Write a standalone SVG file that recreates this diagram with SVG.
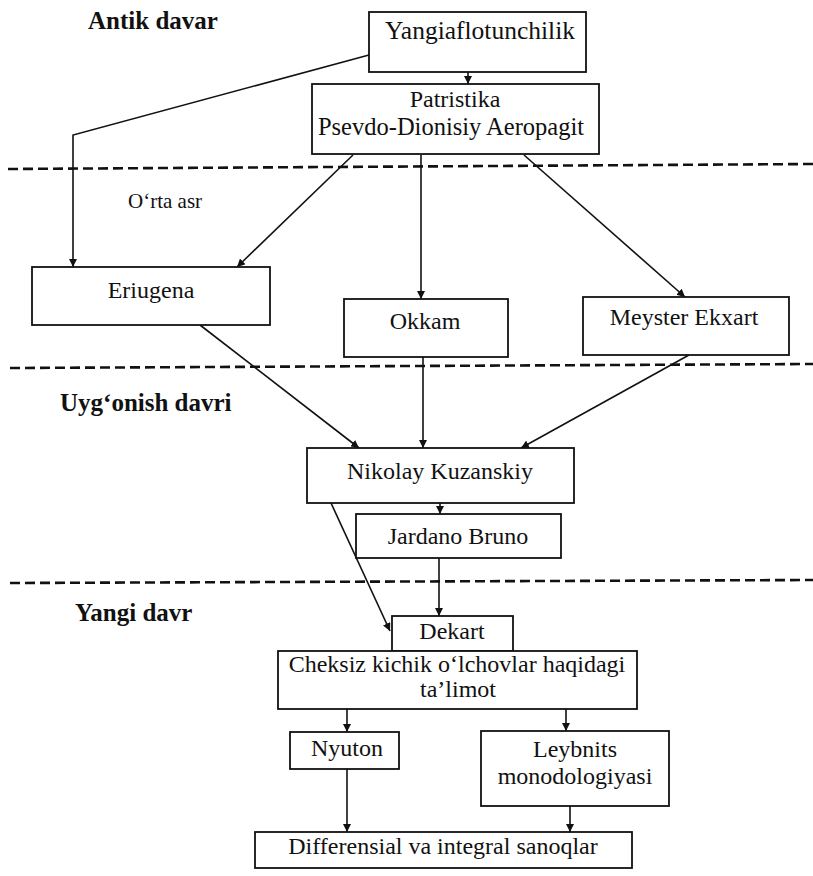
<svg xmlns="http://www.w3.org/2000/svg" width="813" height="876" viewBox="0 0 813 876">
<style>
.box{fill:#fff;stroke:#111;stroke-width:1.8}
.t{font-family:"Liberation Serif","Times New Roman",serif;font-size:24px;fill:#111;text-anchor:middle}
.lbl{font-family:"Liberation Serif","Times New Roman",serif;font-size:25px;font-weight:bold;fill:#111}
.small{font-family:"Liberation Serif","Times New Roman",serif;font-size:21px;fill:#111}
.dash{stroke:#111;stroke-width:2.6;stroke-dasharray:10 5;fill:none}
.c{stroke:#111;stroke-width:1.6;fill:none;marker-end:url(#ah)}
</style>
<defs>
<marker id="ah" markerUnits="userSpaceOnUse" markerWidth="9" markerHeight="8" refX="8" refY="4" orient="auto">
<path d="M0,0 L8,4 L0,8 z" fill="#111"/>
</marker>
</defs>
<rect width="813" height="876" fill="#fff"/>
<g id="periods">
<line class="dash" x1="8" y1="169" x2="813" y2="164"/>
<line class="dash" x1="10" y1="368" x2="813" y2="364"/>
<line class="dash" x1="10" y1="583" x2="813" y2="580"/>
<text class="lbl" x="88" y="29">Antik davar</text>
<text class="small" x="128" y="208">O‘rta asr</text>
<text class="lbl" x="60" y="411">Uyg‘onish davri</text>
<text class="lbl" x="75" y="621">Yangi davr</text>
</g>
<g id="connectors">
<polyline class="c" points="369,55 73,135 73,267"/>
<line class="c" x1="468" y1="72" x2="468" y2="84"/>
<line class="c" x1="353" y1="155" x2="237" y2="267"/>
<line class="c" x1="421" y1="155" x2="421" y2="299"/>
<line class="c" x1="524" y1="155" x2="685" y2="297"/>
<line class="c" x1="200" y1="325" x2="359" y2="448"/>
<line class="c" x1="423" y1="357" x2="423" y2="448"/>
<line class="c" x1="689" y1="355" x2="521" y2="448"/>
<line class="c" x1="440" y1="503" x2="440" y2="514"/>
<line class="c" x1="331" y1="503" x2="390" y2="631"/>
<line class="c" x1="439" y1="558" x2="439" y2="616"/>
<line class="c" x1="347" y1="709" x2="347" y2="732"/>
<line class="c" x1="566" y1="709" x2="566" y2="731"/>
<line class="c" x1="347" y1="769" x2="347" y2="832"/>
<line class="c" x1="570" y1="806" x2="570" y2="832"/>
</g>
<g id="n-yangiaflotunchilik">
<rect class="box" x="369" y="12" width="217" height="60"/>
<text class="t" x="480" y="39" style="font-size:25.5px">Yangiaflotunchilik</text>
</g>
<g id="n-patristika">
<rect class="box" x="312" y="84" width="287" height="70"/>
<text class="t" x="455" y="107">Patristika</text>
<text class="t" x="451" y="135" style="font-size:24.5px">Psevdo-Dionisiy Aeropagit</text>
</g>
<g id="n-eriugena">
<rect class="box" x="32" y="267" width="238" height="58"/>
<text class="t" x="151" y="298">Eriugena</text>
</g>
<g id="n-okkam">
<rect class="box" x="344" y="299" width="164" height="58"/>
<text class="t" x="425" y="329">Okkam</text>
</g>
<g id="n-meyster">
<rect class="box" x="583" y="297" width="206" height="58"/>
<text class="t" x="684" y="325">Meyster Ekxart</text>
</g>
<g id="n-nikolay">
<rect class="box" x="307" y="448" width="267" height="55"/>
<text class="t" x="440" y="479">Nikolay Kuzanskiy</text>
</g>
<g id="n-jardano">
<rect class="box" x="356" y="514" width="205" height="44"/>
<text class="t" x="458" y="544">Jardano Bruno</text>
</g>
<g id="n-dekart">
<rect class="box" x="392" y="616" width="121" height="35"/>
<text class="t" x="452" y="639">Dekart</text>
</g>
<g id="n-cheksiz">
<rect class="box" x="278" y="651" width="359" height="58"/>
<text class="t" x="457" y="672">Cheksiz kichik o‘lchovlar haqidagi</text>
<text class="t" x="458" y="697">ta’limot</text>
</g>
<g id="n-nyuton">
<rect class="box" x="290" y="732" width="109" height="37"/>
<text class="t" x="347" y="756">Nyuton</text>
</g>
<g id="n-leybnits">
<rect class="box" x="481" y="731" width="188" height="75"/>
<text class="t" x="575" y="757">Leybnits</text>
<text class="t" x="575" y="784">monodologiyasi</text>
</g>
<g id="n-differensial">
<rect class="box" x="255" y="832" width="377" height="36"/>
<text class="t" x="443" y="854">Differensial va integral sanoqlar</text>
</g>
</svg>
